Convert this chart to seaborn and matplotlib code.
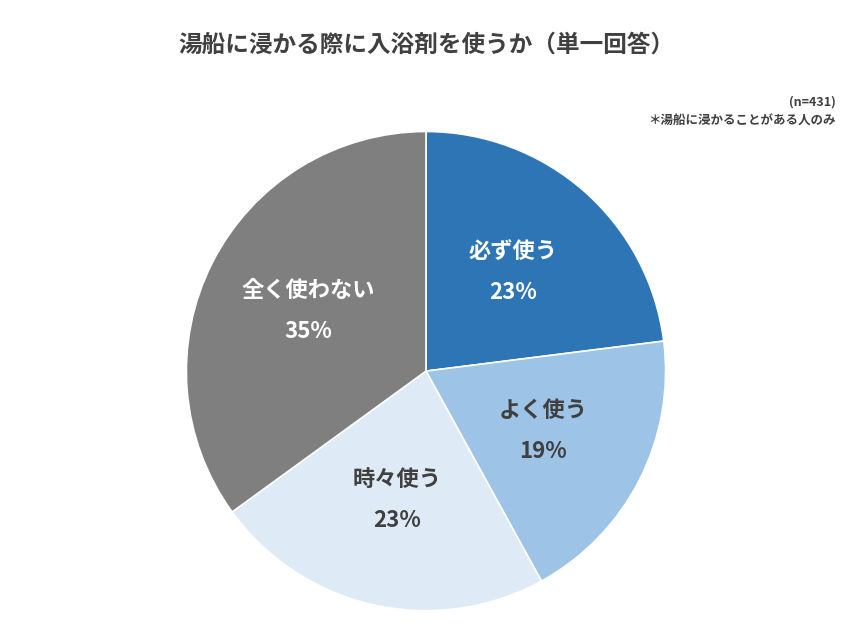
import matplotlib
matplotlib.use("Agg")
import matplotlib.pyplot as plt
import seaborn as sns
import numpy as np

categories = ["必ず使う", "よく使う", "時々使う", "全く使わない"]
values = [23, 19, 23, 35]
colors = ["#2E75B6", "#9DC3E6", "#DEEBF7", "#7F7F7F"]
text_colors = ["white", "#404040", "#404040", "white"]

sns.set_theme(style="white", font="Noto Sans CJK JP")
fig = plt.figure(figsize=(8.53, 6.4), dpi=100)
ax = fig.add_axes([0.4994 - 0.2837, 0.42 - 0.378, 0.5674, 0.7563])
wedges, _ = ax.pie(values, colors=sns.color_palette(colors), startangle=90, counterclock=False,
                   wedgeprops=dict(edgecolor="white", linewidth=1.2))
for v, c, tc, w in zip(values, categories, text_colors, wedges):
    mid = np.deg2rad((w.theta1 + w.theta2) / 2)
    r = 0.55
    x, y = r * np.cos(mid), r * np.sin(mid)
    ax.text(x, y + 0.085, c, ha="center", va="center", color=tc, fontsize=16, fontweight="bold")
    ax.text(x, y - 0.085, f"{v}%", ha="center", va="center", color=tc, fontsize=16, fontweight="bold")
ax.set_xlim(-1.01, 1.01)
ax.set_ylim(-1.01, 1.01)
ax.set_aspect("equal")

fig.text(0.5, 0.93, "湯船に浸かる際に入浴剤を使うか（単一回答）", ha="center", va="center",
         fontsize=17, fontweight="bold", color="#404040")
fig.text(0.98, 0.841, "(n=431)", ha="right", va="center", fontsize=9, fontweight="bold", color="#404040")
fig.text(0.98, 0.811, "＊湯船に浸かることがある人のみ", ha="right", va="center", fontsize=9, fontweight="bold", color="#404040")
fig.savefig("out.png", dpi=100)
